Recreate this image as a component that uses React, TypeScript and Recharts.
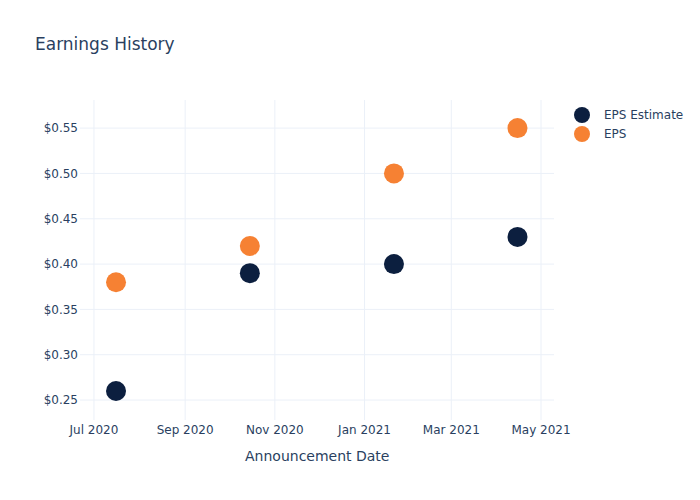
import React from 'react';
import { ScatterChart, Scatter, XAxis, YAxis, ReferenceLine } from 'recharts';

const dates = ['2020-07-16', '2020-10-15', '2021-01-21', '2021-04-15'];
const epsEstimate = [0.26, 0.39, 0.4, 0.43];
const epsActual = [0.38, 0.42, 0.5, 0.55];

const xTicks = ['2020-07-01', '2020-09-01', '2020-11-01', '2021-01-01', '2021-03-01', '2021-05-01'];
const yTicks = [0.25, 0.3, 0.35, 0.4, 0.45, 0.5, 0.55];
const monthNames = ['Jan', 'Feb', 'Mar', 'Apr', 'May', 'Jun', 'Jul', 'Aug', 'Sep', 'Oct', 'Nov', 'Dec'];

const toTs = (d: string) => new Date(d + 'T00:00:00Z').getTime();

const estimateData = dates.map((d, i) => ({ x: toTs(d), y: epsEstimate[i] }));
const actualData = dates.map((d, i) => ({ x: toTs(d), y: epsActual[i] }));

const NAVY = '#0c1f3f';
const ORANGE = '#f68133';
const TEXT = '#2a3f5f';
const GRID = '#ebf0f8';
const FONT = '"DejaVu Sans", Verdana, Arial, sans-serif';

const dot = (color: string) => (props: any) => (
  <circle cx={props.cx} cy={props.cy} r={10} fill={color} />
);

const fmtDate = (v: number) => {
  const d = new Date(v);
  return `${monthNames[d.getUTCMonth()]} ${d.getUTCFullYear()}`;
};

export default function App() {
  return (
    <div style={{ position: 'absolute', left: 0, top: 0, width: 700, height: 500, background: '#fff', fontFamily: FONT }}>
      <div style={{ position: 'absolute', left: 35, top: 34, fontSize: 17, color: TEXT }}>Earnings History</div>
      <ScatterChart width={700} height={500} margin={{ top: 100, right: 146, bottom: 50, left: 20 }}>
        <XAxis
          type="number"
          dataKey="x"
          domain={[toTs('2020-06-21') + 12 * 3600000, toTs('2021-05-09') + 20 * 3600000]}
          ticks={xTicks.map(toTs)}
          tickFormatter={fmtDate}
          axisLine={false}
          tickLine={false}
          tickSize={0}
          tickMargin={5}
          height={30}
          tick={{ fill: TEXT, fontSize: 12, fontFamily: FONT }}
        />
        <YAxis
          type="number"
          dataKey="y"
          domain={[0.228, 0.581]}
          ticks={yTicks}
          tickFormatter={(v: number) => `$${v.toFixed(2)}`}
          axisLine={false}
          tickLine={false}
          tickSize={0}
          tickMargin={2}
          width={60}
          tick={{ fill: TEXT, fontSize: 12, fontFamily: FONT }}
        />
        {yTicks.map((v) => (
          <ReferenceLine key={`y${v}`} y={v} stroke={GRID} strokeWidth={1} />
        ))}
        {xTicks.map((d) => (
          <ReferenceLine key={`x${d}`} x={toTs(d)} stroke={GRID} strokeWidth={1} />
        ))}
        <Scatter name="EPS Estimate" data={estimateData} fill={NAVY} shape={dot(NAVY)} isAnimationActive={false} />
        <Scatter name="EPS" data={actualData} fill={ORANGE} shape={dot(ORANGE)} isAnimationActive={false} />
      </ScatterChart>
      <div style={{ position: 'absolute', left: 245, top: 448, fontSize: 14, color: TEXT }}>Announcement Date</div>
      <div style={{ position: 'absolute', left: 574, top: 105, fontSize: 12, color: TEXT }}>
        {[
          { name: 'EPS Estimate', color: NAVY },
          { name: 'EPS', color: ORANGE },
        ].map((item) => (
          <div key={item.name} style={{ display: 'flex', alignItems: 'center', height: 19 }}>
            <span style={{ width: 16, height: 16, borderRadius: 8, background: item.color, display: 'inline-block', marginRight: 14 }} />
            <span>{item.name}</span>
          </div>
        ))}
      </div>
    </div>
  );
}
